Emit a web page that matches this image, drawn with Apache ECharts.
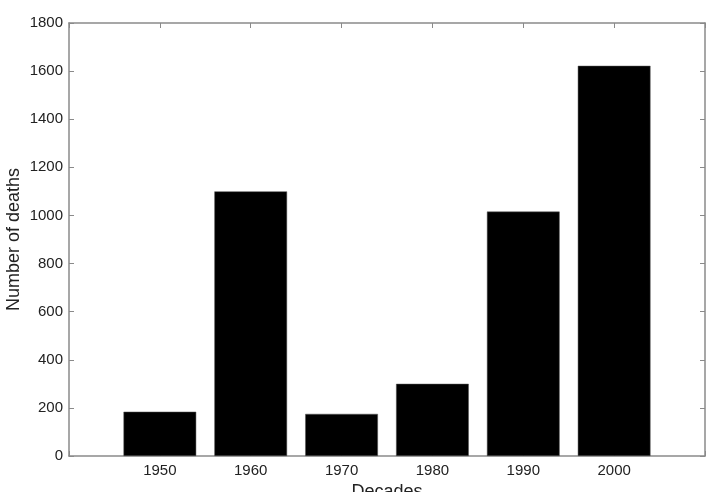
<!DOCTYPE html>
<html>
<head>
<meta charset="utf-8">
<script src="https://cdn.jsdelivr.net/npm/echarts@6/dist/echarts.min.js"></script>
<style>html,body{margin:0;padding:0;background:#fff}#c{width:710px;height:492px}</style>
</head>
<body>
<div id="c"></div>
<script>
const decades = [1950, 1960, 1970, 1980, 1990, 2000];
const deaths = [184, 1100, 175, 300, 1016, 1622];
const yTicks = [0, 200, 400, 600, 800, 1000, 1200, 1400, 1600, 1800];

const axisColor = '#8a8a8a';
const textColor = '#222';
const font = 'Liberation Sans, Arial, sans-serif';

const chart = echarts.init(document.getElementById('c'), null, {renderer: 'canvas'});
chart.setOption({
  animation: false,
  grid: {left: 69, right: 5, top: 23, bottom: 36, containLabel: false, outerBoundsMode: 'none'},
  xAxis: [{
    type: 'value', min: 1940, max: 2010, interval: 10, position: 'bottom',
    name: 'Decades', nameLocation: 'middle', nameGap: 27, nameMoveOverlap: false,
    nameTextStyle: {fontSize: 18, color: textColor, fontFamily: font},
    axisLine: {show: true, onZero: false, lineStyle: {color: axisColor, width: 1.5}},
    axisTick: {show: true, inside: true, length: 5, lineStyle: {color: axisColor}},
    axisLabel: {
      fontSize: 15, color: textColor, fontFamily: font, margin: 7,
      formatter: v => decades.includes(v) ? String(v) : '',
      showMinLabel: true, showMaxLabel: true
    },
    splitLine: {show: false}
  }, {
    type: 'value', min: 1940, max: 2010, interval: 10, position: 'top',
    axisLine: {show: true, onZero: false, lineStyle: {color: axisColor, width: 1.5}},
    axisTick: {show: true, inside: true, length: 5, lineStyle: {color: axisColor}},
    axisLabel: {show: false},
    splitLine: {show: false}
  }],
  yAxis: [{
    type: 'value', min: 0, max: 1800, interval: 200, position: 'left',
    name: 'Number of deaths', nameLocation: 'middle', nameGap: 46, nameMoveOverlap: false,
    nameTextStyle: {fontSize: 18, color: textColor, fontFamily: font},
    axisLine: {show: true, onZero: false, lineStyle: {color: axisColor, width: 1.5}},
    axisTick: {show: true, inside: true, length: 5, lineStyle: {color: axisColor}},
    axisLabel: {fontSize: 15, color: textColor, fontFamily: font, margin: 6,
      formatter: v => yTicks.includes(v) ? String(v) : ''},
    splitLine: {show: false}
  }, {
    type: 'value', min: 0, max: 1800, interval: 200, position: 'right',
    axisLine: {show: true, onZero: false, lineStyle: {color: axisColor, width: 1.5}},
    axisTick: {show: true, inside: true, length: 5, lineStyle: {color: axisColor}},
    axisLabel: {show: false},
    splitLine: {show: false}
  }],
  series: [{
    type: 'bar',
    xAxisIndex: 0, yAxisIndex: 0,
    data: decades.map((d, i) => [d, deaths[i]]),
    barWidth: '80%',
    itemStyle: {color: '#000', borderColor: '#555', borderWidth: 0.5}
  }]
});
</script>
</body>
</html>
